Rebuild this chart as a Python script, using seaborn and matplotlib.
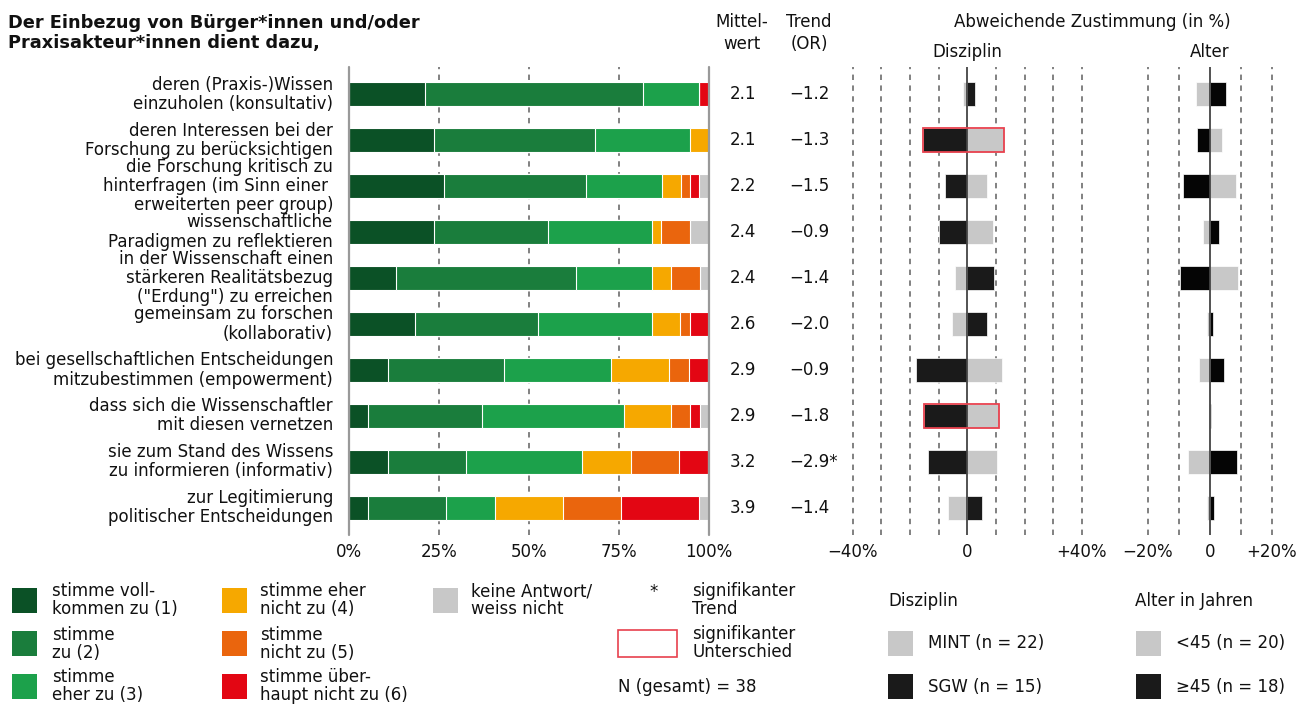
import numpy as np
import pandas as pd
import matplotlib
matplotlib.use("Agg")
import matplotlib.pyplot as plt
import matplotlib.transforms as mtransforms
from matplotlib.patches import Rectangle
import seaborn as sns

# ---------------------------------------------------------------- data
items = [
    "deren (Praxis-)Wissen\neinzuholen (konsultativ)",
    "deren Interessen bei der\nForschung zu berücksichtigen",
    "die Forschung kritisch zu\nhinterfragen (im Sinn einer \nerweiterten peer group)",
    "wissenschaftliche\nParadigmen zu reflektieren",
    "in der Wissenschaft einen\nstärkeren Realitätsbezug\n(\"Erdung\") zu erreichen",
    "gemeinsam zu forschen\n(kollaborativ)",
    "bei gesellschaftlichen Entscheidungen\nmitzubestimmen (empowerment)",
    "dass sich die Wissenschaftler\nmit diesen vernetzen",
    "sie zum Stand des Wissens\nzu informieren (informativ)",
    "zur Legitimierung\npolitischer Entscheidungen",
]

# answer shares in %
voll = [21.1, 23.7, 26.3, 23.7, 13.2, 18.4, 10.8, 5.3, 10.8, 5.4]
zu = [60.5, 44.7, 39.5, 31.6, 50.0, 34.2, 32.4, 31.6, 21.6, 21.6]
eher_zu = [15.8, 26.3, 21.1, 28.9, 21.1, 31.6, 29.7, 39.5, 32.4, 13.5]
eher_nicht = [0.0, 5.3, 5.3, 2.6, 5.3, 7.9, 16.2, 13.2, 13.5, 18.9]
nicht = [0.0, 0.0, 2.6, 7.9, 7.9, 2.6, 5.4, 5.3, 13.5, 16.2]
ueberhaupt_nicht = [2.6, 0.0, 2.6, 0.0, 0.0, 5.3, 5.4, 2.6, 8.1, 21.6]
keine_antwort = [0.0, 0.0, 2.6, 5.3, 2.6, 0.0, 0.0, 2.6, 0.0, 2.7]

mittelwert = ["2.1", "2.1", "2.2", "2.4", "2.4", "2.6", "2.9", "2.9", "3.2", "3.9"]
trend = ["−1.2", "−1.3", "−1.5", "−0.9", "−1.4", "−2.0", "−0.9", "−1.8", "−2.9*", "−1.4"]

# deviating agreement in percentage points
mint = [-1.5, 12.9, 7.0, 9.0, -4.2, -5.3, 12.0, 11.2, 10.2, -6.9]
sgw = [2.7, -15.6, -7.8, -9.9, 9.3, 6.7, -18.0, -15.1, -13.6, 5.1]
disziplin_sig = [False, True, False, False, False, False, False, True, False, False]

unter45 = [-4.5, 3.8, 8.5, -2.2, 9.0, -0.8, -3.5, -0.3, -7.1, -1.0]
ab45 = [5.3, -4.1, -8.8, 2.9, -9.5, 1.0, 4.6, 0.4, 8.9, 1.5]

answer_labels = [
    "stimme voll-\nkommen zu (1)", "stimme\nzu (2)", "stimme\neher zu (3)",
    "stimme eher\nnicht zu (4)", "stimme\nnicht zu (5)", "stimme über-\nhaupt nicht zu (6)",
    "keine Antwort/\nweiss nicht",
]
answer_colors = ["#0b5126", "#1a7d3c", "#1ca14b", "#f6a800", "#ea650d", "#e30613", "#c8c8c8"]
grey = "#c8c8c8"
black = "#1a1a1a"
sig_red = "#e8414e"
ink = "#111111"

# ---------------------------------------------------------------- style
sns.set_theme(style="white")
plt.rcParams["font.family"] = ["DejaVu Sans"]
FS = 12

W, H = 1304, 704
fig = plt.figure(figsize=(W / 100, H / 100), dpi=100)


def fx(x):
    return x / W


def fy(y):
    return 1 - y / H


top_px, bot_px = 67, 535
ylim = (9.59, -0.59)
bar_h = 0.52
rows = np.arange(len(items))

ax_bar = fig.add_axes([fx(349), fy(bot_px), fx(708.7) - fx(349), fy(top_px) - fy(bot_px)])
ax_dis = fig.add_axes([fx(852.7), fy(bot_px), fx(1082) - fx(852.7), fy(top_px) - fy(bot_px)])
ax_alt = fig.add_axes([fx(1148), fy(bot_px), fx(1271.7) - fx(1148), fy(top_px) - fy(bot_px)])

# ---------------------------------------------------------------- stacked bars
shares = np.array([voll, zu, eher_zu, eher_nicht, nicht, ueberhaupt_nicht, keine_antwort]).T
cum = np.cumsum(shares, axis=1)
for k in range(shares.shape[1] - 1, -1, -1):
    df = pd.DataFrame({"row": rows, "value": cum[:, k]})
    sns.barplot(data=df, x="value", y="row", orient="h", color=answer_colors[k],
                saturation=1, width=bar_h, errorbar=None, edgecolor="white",
                linewidth=0.8, ax=ax_bar, zorder=2)

for g in (25, 50, 75):
    ax_bar.axvline(g, color="#777777", lw=1.3, ls=(0, (3, 3)), zorder=1)
for g in (0, 100):
    ax_bar.axvline(g, color="#999999", lw=1.6, zorder=3, clip_on=False)
ax_bar.set_xlim(0, 100)
ax_bar.set_xticks([0, 25, 50, 75, 100])
ax_bar.set_xticklabels(["0%", "25%", "50%", "75%", "100%"])


# ---------------------------------------------------------------- deviation panels
def deviation_panel(ax, left_vals, right_vals, lim, grid, ticklabels, c_left, c_right, sig=None):
    for vals, col in ((left_vals, c_left), (right_vals, c_right)):
        df = pd.DataFrame({"row": rows, "value": vals})
        sns.barplot(data=df, x="value", y="row", orient="h", color=col, saturation=1,
                    width=bar_h, errorbar=None, edgecolor="white", linewidth=0.5,
                    ax=ax, zorder=2)
    if sig is not None:
        lo = np.minimum(left_vals, right_vals)
        hi = np.maximum(left_vals, right_vals)
        idx = np.where(sig)[0]
        ax.barh(idx, (hi - lo)[idx], left=lo[idx], height=bar_h, fill=False,
                edgecolor=sig_red, linewidth=1.3, zorder=4)
    for g in grid:
        ax.axvline(g, color="#777777", lw=1.3, ls=(0, (3, 3)), zorder=1, clip_on=False)
    ax.axvline(0, color="#444444", lw=1.3, zorder=3)
    ax.set_xlim(-lim, lim)
    ax.set_xticks([-lim, 0, lim])
    ax.set_xticklabels(ticklabels)


deviation_panel(ax_dis, np.array(mint), np.array(sgw), 40,
                [-40, -30, -20, -10, 10, 20, 30, 40], ["−40%", "0", "+40%"],
                grey, black, disziplin_sig)
deviation_panel(ax_alt, np.array(unter45), np.array(ab45), 20,
                [-20, -10, 10, 20], ["−20%", "0", "+20%"], grey, "#050505")

for ax in (ax_bar, ax_dis, ax_alt):
    ax.set_ylim(*ylim)
    ax.set_yticks([])
    ax.set_xlabel("")
    ax.set_ylabel("")
    for s in ax.spines.values():
        s.set_visible(False)
    ax.tick_params(axis="x", length=0, pad=6, labelsize=FS, colors=ink)
    ax.set_facecolor("none")

# ---------------------------------------------------------------- row texts
tr = mtransforms.blended_transform_factory(fig.transFigure, ax_bar.transData)
for i, lab in enumerate(items):
    fig.text(fx(333), i, lab, transform=tr, ha="right", va="center", fontsize=FS,
             color=ink, linespacing=1.08)
    fig.text(fx(743), i, mittelwert[i], transform=tr, ha="center", va="center",
             fontsize=FS, color=ink)
    fig.text(fx(789), i, trend[i], transform=tr, ha="left", va="center",
             fontsize=FS, color=ink)

# ---------------------------------------------------------------- headers
fig.text(fx(8), fy(33), "Der Einbezug von Bürger*innen und/oder\nPraxisakteur*innen dient dazu,",
         ha="left", va="center", fontsize=12.8, fontweight="bold", color=ink,
         linespacing=1.15)
fig.text(fx(742), fy(33), "Mittel-\nwert", ha="center", va="center", fontsize=FS,
         color=ink, linespacing=1.25)
fig.text(fx(809), fy(33), "Trend\n(OR)", ha="center", va="center", fontsize=FS,
         color=ink, linespacing=1.25)
fig.text(fx(1092), fy(22), "Abweichende Zustimmung (in %)", ha="center", va="center",
         fontsize=FS, color=ink)
fig.text(fx(967), fy(52), "Disziplin", ha="center", va="center", fontsize=FS, color=ink)
fig.text(fx(1210), fy(52), "Alter", ha="center", va="center", fontsize=FS, color=ink)


# ---------------------------------------------------------------- legend
def square(x0, y0, color, size=25, fill=True, w=None, h=None, edge="none"):
    w = size if w is None else w
    h = size if h is None else h
    fig.add_artist(Rectangle((fx(x0), fy(y0 + h)), w / W, h / H, transform=fig.transFigure,
                             facecolor=color if fill else "none", edgecolor=edge,
                             linewidth=1.2))


leg_cols = [(12, 52), (222, 260), (433, 471)]
leg_rows = [588, 631, 674]
for k, (lab, col) in enumerate(zip(answer_labels, answer_colors)):
    c, r = divmod(k, 3)
    x0, xt = leg_cols[c]
    y0 = leg_rows[r]
    square(x0, y0, col)
    fig.text(fx(xt), fy(y0 + 12.5), lab, ha="left", va="center", fontsize=FS,
             color=ink, linespacing=1.0)

fig.text(fx(654), fy(592), "*", ha="center", va="center", fontsize=FS, color=ink)
fig.text(fx(692), fy(600), "signifikanter\nTrend", ha="left", va="center", fontsize=FS,
         color=ink, linespacing=0.95)
square(618, 630, None, fill=False, w=59, h=27, edge=sig_red)
fig.text(fx(692), fy(643), "signifikanter\nUnterschied", ha="left", va="center", fontsize=FS,
         color=ink, linespacing=0.95)
fig.text(fx(618), fy(687), "N (gesamt) = 38", ha="left", va="center", fontsize=FS,
         color=ink)

fig.text(fx(888), fy(601), "Disziplin", ha="left", va="center", fontsize=FS, color=ink)
square(888, 631, grey)
fig.text(fx(928), fy(643.5), "MINT (n = 22)", ha="left", va="center", fontsize=FS, color=ink)
square(888, 674, black)
fig.text(fx(928), fy(686.5), "SGW (n = 15)", ha="left", va="center", fontsize=FS, color=ink)

fig.text(fx(1135), fy(601), "Alter in Jahren", ha="left", va="center", fontsize=FS, color=ink)
square(1136, 631, grey)
fig.text(fx(1176), fy(643.5), "<45 (n = 20)", ha="left", va="center", fontsize=FS, color=ink)
square(1136, 674, black)
fig.text(fx(1176), fy(686.5), "≥45 (n = 18)", ha="left", va="center", fontsize=FS, color=ink)

fig.savefig("out.png", dpi=100, facecolor="white")
